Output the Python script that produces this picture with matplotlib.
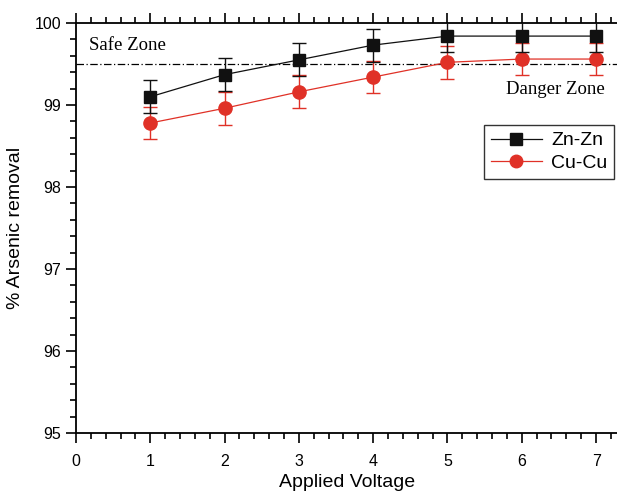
import matplotlib
matplotlib.use("Agg")
import matplotlib.pyplot as plt
from matplotlib.ticker import MultipleLocator
from matplotlib.lines import Line2D

voltage = [1, 2, 3, 4, 5, 6, 7]
zn_zn = [99.10, 99.37, 99.55, 99.73, 99.84, 99.84, 99.84]
cu_cu = [98.78, 98.96, 99.16, 99.34, 99.52, 99.56, 99.56]
zn_err = [0.2, 0.2, 0.2, 0.2, 0.2, 0.2, 0.2]
cu_err = [0.2, 0.2, 0.2, 0.2, 0.2, 0.2, 0.2]
threshold = 99.5

plt.rcParams['font.family'] = ['Liberation Sans', 'DejaVu Sans']

fig = plt.figure(figsize=(6.17, 4.95), dpi=100)
ax = fig.add_axes([0.1232, 0.1253, 0.879, 0.8283])

ax.axhline(threshold, color='black', lw=0.9, linestyle=(0, (6, 2, 1, 2)))

ax.errorbar(voltage, cu_cu, yerr=cu_err, color='#e03127', marker='o', markersize=9.5,
            lw=0.9, ecolor='#e03127', elinewidth=1.0, capsize=5, capthick=1.0, zorder=3)
ax.errorbar(voltage, zn_zn, yerr=zn_err, color='#111111', marker='s', markersize=8.5,
            lw=0.9, ecolor='#111111', elinewidth=1.0, capsize=5, capthick=1.0, zorder=4)

ax.set_xlim(0, 7.3)
ax.set_ylim(95, 100)
ax.xaxis.set_major_locator(MultipleLocator(1))
ax.xaxis.set_minor_locator(MultipleLocator(0.2))
ax.yaxis.set_major_locator(MultipleLocator(1))
ax.yaxis.set_minor_locator(MultipleLocator(0.2))
ax.tick_params(which='both', direction='out', top=True, right=False, labelsize=11.5, width=1.2)
ax.tick_params(which='major', length=7)
ax.tick_params(which='minor', length=4)
ax.tick_params(axis='x', pad=8)
for s in ['left', 'bottom', 'top']:
    ax.spines[s].set_linewidth(1.3)
ax.spines['right'].set_visible(False)

ax.set_xlabel('Applied Voltage', fontsize=14, labelpad=4)
ax.set_ylabel('% Arsenic removal', fontsize=14, labelpad=8)

ax.text(0.17, 99.72, 'Safe Zone', fontsize=13.5, family='Liberation Serif', va='center')
ax.text(7.12, 99.19, 'Danger Zone', fontsize=13.5, family='Liberation Serif', va='center', ha='right')

handles = [
    Line2D([], [], color='#111111', marker='s', markersize=8, lw=0.9),
    Line2D([], [], color='#e03127', marker='o', markersize=9, lw=0.9),
]
leg = ax.legend(handles, ['Zn-Zn', 'Cu-Cu'], loc='upper left', bbox_to_anchor=(0.735, 0.775),
                fontsize=14, frameon=True, fancybox=False, edgecolor='black',
                handlelength=2.6, borderpad=0.35, labelspacing=0.25, handletextpad=0.5)
leg.get_frame().set_linewidth(1.0)

fig.savefig('out.png', dpi=100)
